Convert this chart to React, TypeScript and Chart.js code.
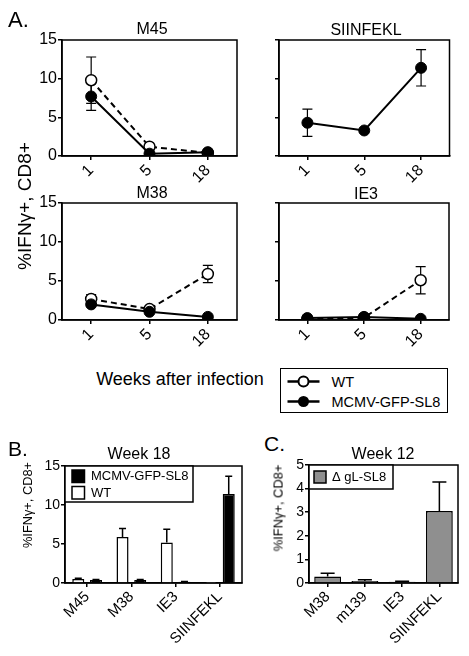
import React, { useEffect, useRef } from 'react';
import { Chart, registerables } from 'chart.js';
Chart.register(...registerables);

const FONT = '"Liberation Sans", Arial, Helvetica, sans-serif';

// ---------- Panel A data (weeks after infection) ----------
const weeks = ['1', '5', '18'];
const m45WT = [9.8, 1.2, 0.4];
const m45WTErr = [3.0, 0, 0];
const m45SL8 = [7.7, 0.3, 0.5];
const m45SL8Err = [1.8, 0, 0];
const siinfeklSL8 = [4.3, 3.3, 11.4];
const siinfeklSL8Err = [1.75, 0, 2.35];
const m38WT = [2.7, 1.4, 5.9];
const m38WTErr = [0.55, 0, 1.1];
const m38SL8 = [2.0, 1.05, 0.4];
const m38SL8Err = [0, 0, 0];
const ie3WT = [0.1, 0.3, 5.1];
const ie3WTErr = [0, 0, 1.75];
const ie3SL8 = [0.25, 0.4, 0.15];
const ie3SL8Err = [0, 0, 0];
const yMaxA = 15;
const yStepA = 5;

// ---------- Panel B data (week 18) ----------
const peptidesB = ['M45', 'M38', 'IE3', 'SIINFEKL'];
const week18WT = [0.5, 5.9, 5.2, 0.03];
const week18WTErr = [0.1, 1.1, 1.7, 0];
const week18SL8 = [0.4, 0.4, 0.15, 11.4];
const week18SL8Err = [0.05, 0.05, 0.05, 2.3];
const yMaxB = 15;
const yStepB = 5;

// ---------- Panel C data (week 12) ----------
const peptidesC = ['M38', 'm139', 'IE3', 'SIINFEKL'];
const week12gL = [0.28, 0.08, 0.05, 3.05];
const week12gLErr = [0.13, 0.06, 0.02, 1.23];
const yMaxC = 5;
const yStepC = 1;

// ---------- plugins ----------
const framePlugin = {
  id: 'frame',
  beforeDatasetsDraw(chart: any) {
    const { ctx, chartArea: a } = chart;
    ctx.save();
    ctx.strokeStyle = '#000';
    ctx.lineWidth = 1.5;
    ctx.strokeRect(a.left, a.top, a.right - a.left, a.bottom - a.top);
    ctx.restore();
  },
};

const errorPlugin = {
  id: 'errorBars',
  beforeDatasetsDraw(chart: any) {
    const { ctx } = chart;
    const ys = chart.scales.y;
    chart.data.datasets.forEach((ds: any, i: number) => {
      if (!ds.errors) return;
      const meta = chart.getDatasetMeta(i);
      ctx.save();
      ctx.strokeStyle = '#000';
      ctx.lineWidth = ds.errLineWidth || 1.2;
      meta.data.forEach((el: any, j: number) => {
        const e = ds.errors[j];
        if (!e) return;
        const v = ds.data[j];
        const x = el.x;
        const yTop = ys.getPixelForValue(v + e);
        const yBot = ds.errUpOnly ? ys.getPixelForValue(v) : ys.getPixelForValue(v - e);
        const half = (ds.errCap || 10) / 2;
        ctx.beginPath();
        ctx.moveTo(x, yTop);
        ctx.lineTo(x, yBot);
        ctx.moveTo(x - half, yTop);
        ctx.lineTo(x + half, yTop);
        if (!ds.errUpOnly) {
          ctx.moveTo(x - half, yBot);
          ctx.lineTo(x + half, yBot);
        }
        ctx.stroke();
      });
      ctx.restore();
    });
  },
};

const boxLegendPlugin = {
  id: 'boxLegend',
  afterDatasetsDraw(chart: any, _args: any, opts: any) {
    if (!opts || !opts.items) return;
    const { ctx, chartArea: a } = chart;
    ctx.save();
    ctx.fillStyle = '#fff';
    ctx.fillRect(a.left, a.top, opts.width, opts.height);
    ctx.strokeStyle = '#000';
    ctx.lineWidth = 1.5;
    ctx.strokeRect(a.left, a.top, opts.width, opts.height);
    ctx.font = `${opts.fontSize}px ${FONT}`;
    ctx.textBaseline = 'middle';
    opts.items.forEach((it: any, i: number) => {
      const sy = a.top + opts.boxY + i * opts.rowH;
      ctx.fillStyle = it.color;
      ctx.fillRect(a.left + opts.boxX, sy, opts.box, opts.box);
      ctx.strokeStyle = '#000';
      ctx.lineWidth = 1.5;
      ctx.strokeRect(a.left + opts.boxX, sy, opts.box, opts.box);
      ctx.fillStyle = '#000';
      ctx.fillText(it.label, a.left + opts.textX, sy + opts.box / 2 + 0.5);
    });
    ctx.restore();
  },
};

function axisX(fontSize: number, xH: number) {
  return {
    type: 'category',
    offset: true,
    grid: { display: true, drawOnChartArea: false, offset: false, tickLength: 4, color: '#000', lineWidth: 1.5 },
    border: { display: true, color: '#000', width: 1.5 },
    ticks: { color: '#000', font: { family: FONT, size: fontSize }, maxRotation: 45, minRotation: 45, padding: 1, autoSkip: false },
    afterFit: (s: any) => { s.height = xH; },
  };
}

function axisY(max: number, step: number, fontSize: number, yW: number, showLabels: boolean) {
  const ticks: any = { stepSize: step, color: '#000', font: { family: FONT, size: fontSize }, padding: 1 };
  if (!showLabels) ticks.callback = () => '';
  return {
    min: 0,
    max,
    grid: { display: true, drawOnChartArea: false, tickLength: 4, color: '#000', lineWidth: 1.5 },
    border: { display: true, color: '#000', width: 1.5 },
    ticks,
    afterFit: (s: any) => { s.width = yW; },
  };
}

function wtLine(data: number[], errors: number[]) {
  return {
    label: 'WT', data, errors, errCap: 10, errLineWidth: 1.2,
    borderColor: '#000', borderWidth: 2, borderDash: [6, 4],
    pointRadius: 5.5, pointBackgroundColor: '#fff', pointBorderColor: '#000', pointBorderWidth: 1.5,
  };
}
function sl8Line(data: number[], errors: number[]) {
  return {
    label: 'MCMV-GFP-SL8', data, errors, errCap: 10, errLineWidth: 1.2,
    borderColor: '#000', borderWidth: 2,
    pointRadius: 5.5, pointBackgroundColor: '#000', pointBorderColor: '#000', pointBorderWidth: 1,
  };
}

function lineConfig(datasets: any[], yW: number, xH: number, showY: boolean) {
  return {
    type: 'line',
    data: { labels: weeks, datasets },
    options: {
      responsive: false, animation: false, devicePixelRatio: 1,
      layout: { padding: { top: 12, right: 2, left: 0, bottom: 0 } },
      plugins: { legend: { display: false }, tooltip: { enabled: false } },
      scales: { x: axisX(16, xH), y: axisY(yMaxA, yStepA, 16, yW, showY) },
    },
    plugins: [framePlugin, errorPlugin],
  };
}

function ChartBox({ left, top, width, height, config }: any) {
  const ref = useRef<HTMLCanvasElement>(null);
  useEffect(() => {
    const c = new Chart(ref.current as HTMLCanvasElement, config);
    return () => c.destroy();
  }, []);
  return (
    <div style={{ position: 'absolute', left, top, width, height }}>
      <canvas ref={ref} width={width} height={height} style={{ width, height, display: 'block' }} />
    </div>
  );
}

function Txt({ x, y, size, children, align = 'center', rotate = false }: any) {
  const style: any = {
    position: 'absolute', left: x, top: y, fontSize: size, lineHeight: `${size}px`,
    whiteSpace: 'nowrap', fontFamily: FONT, color: '#000',
  };
  if (rotate) style.transform = 'translate(-50%,-50%) rotate(-90deg)';
  else if (align === 'center') style.transform = 'translate(-50%,-50%)';
  else style.transform = 'translate(0,-50%)';
  return <div style={style}>{children}</div>;
}

const m45Config = lineConfig([sl8Line(m45SL8, m45SL8Err), wtLine(m45WT, m45WTErr)], 42, 37, true);
const siinConfig = lineConfig([sl8Line(siinfeklSL8, siinfeklSL8Err)], 29, 37, false);
const m38Config = lineConfig([sl8Line(m38SL8, m38SL8Err), wtLine(m38WT, m38WTErr)], 42, 36, true);
const ie3Config = lineConfig([sl8Line(ie3SL8, ie3SL8Err), wtLine(ie3WT, ie3WTErr)], 29, 36, false);

const bConfig = {
  type: 'bar',
  data: {
    labels: peptidesB,
    datasets: [
      { label: 'WT', data: week18WT, errors: week18WTErr, errUpOnly: true, errCap: 7, errLineWidth: 1.5,
        backgroundColor: '#fff', borderColor: '#000', borderWidth: 1.5, barPercentage: 0.68, categoryPercentage: 0.8 },
      { label: 'MCMV-GFP-SL8', data: week18SL8, errors: week18SL8Err, errUpOnly: true, errCap: 7, errLineWidth: 1.5,
        backgroundColor: '#000', borderColor: '#000', borderWidth: 1.5, barPercentage: 0.68, categoryPercentage: 0.8 },
    ],
  },
  options: {
    responsive: false, animation: false, devicePixelRatio: 1,
    layout: { padding: { top: 10, right: 2, left: 0, bottom: 0 } },
    plugins: {
      legend: { display: false }, tooltip: { enabled: false },
      boxLegend: {
        width: 128, height: 36, box: 12.5, boxX: 7, boxY: 4, rowH: 16.5, textX: 26, fontSize: 13,
        items: [{ label: 'MCMV-GFP-SL8', color: '#000' }, { label: 'WT', color: '#fff' }],
      },
    },
    scales: { x: axisX(15, 73), y: axisY(yMaxB, yStepB, 14, 45, true) },
  },
  plugins: [framePlugin, errorPlugin, boxLegendPlugin],
};

const cConfig = {
  type: 'bar',
  data: {
    labels: peptidesC,
    datasets: [
      { label: 'Δ gL-SL8', data: week12gL, errors: week12gLErr, errUpOnly: true, errCap: 14, errLineWidth: 1.5,
        backgroundColor: '#8f8f8f', borderColor: '#000', borderWidth: 1.5, barPercentage: 0.9, categoryPercentage: 0.8 },
    ],
  },
  options: {
    responsive: false, animation: false, devicePixelRatio: 1,
    layout: { padding: { top: 10, right: 2, left: 0, bottom: 0 } },
    plugins: {
      legend: { display: false }, tooltip: { enabled: false },
      boxLegend: {
        width: 84, height: 24, box: 12, boxX: 5, boxY: 6, rowH: 16, textX: 23, fontSize: 13,
        items: [{ label: 'Δ gL-SL8', color: '#8f8f8f' }],
      },
    },
    scales: { x: axisX(15, 73), y: axisY(yMaxC, yStepC, 14, 24, true) },
  },
  plugins: [framePlugin, errorPlugin, boxLegendPlugin],
};

export default function App() {
  return (
    <div style={{ position: 'fixed', left: 0, top: 0, width: 469, height: 656, background: '#fff', overflow: 'hidden', fontFamily: FONT }}>
      <ChartBox left={20} top={28} width={224} height={165} config={m45Config} />
      <ChartBox left={250} top={28} width={206} height={165} config={siinConfig} />
      <ChartBox left={20} top={191} width={224} height={165} config={m38Config} />
      <ChartBox left={250} top={191} width={206} height={165} config={ie3Config} />
      <ChartBox left={20} top={456} width={224} height={200} config={bConfig} />
      <ChartBox left={285} top={455} width={175} height={201} config={cConfig} />

      <Txt x={8} y={20} size={22} align="left">A.</Txt>
      <Txt x={8} y={448} size={21} align="left">B.</Txt>
      <Txt x={264} y={443} size={21} align="left">C.</Txt>

      <Txt x={152} y={29} size={16}>M45</Txt>
      <Txt x={366} y={30} size={16}>SIINFEKL</Txt>
      <Txt x={152} y={193} size={16}>M38</Txt>
      <Txt x={366} y={194} size={16}>IE3</Txt>

      <Txt x={23.5} y={206} size={19} rotate>%IFNγ+, CD8+</Txt>
      <Txt x={180} y={379} size={18}>Weeks after infection</Txt>

      <div style={{ position: 'absolute', left: 280, top: 368, width: 168, height: 45, border: '1.5px solid #000', boxSizing: 'border-box', background: '#fff' }}>
        <svg width={50} height={42} style={{ position: 'absolute', left: 0, top: 0 }}>
          <line x1={6.5} y1={12.5} x2={38.5} y2={12.5} stroke="#000" strokeWidth={2.5} />
          <circle cx={22.5} cy={12.5} r={5} fill="#fff" stroke="#000" strokeWidth={2} />
          <line x1={6.5} y1={32.5} x2={38.5} y2={32.5} stroke="#000" strokeWidth={2.5} />
          <circle cx={22.5} cy={32.5} r={5.5} fill="#000" />
        </svg>
        <div style={{ position: 'absolute', left: 50.5, top: 12.5, transform: 'translateY(-50%)', fontSize: 14.5, lineHeight: '14.5px', whiteSpace: 'nowrap' }}>WT</div>
        <div style={{ position: 'absolute', left: 50.5, top: 32.5, transform: 'translateY(-50%)', fontSize: 14.5, lineHeight: '14.5px', whiteSpace: 'nowrap' }}>MCMV-GFP-SL8</div>
      </div>

      <Txt x={139} y={454} size={16}>Week 18</Txt>
      <Txt x={383} y={454} size={16}>Week 12</Txt>
      <Txt x={27.5} y={505} size={12.8} rotate>%IFNγ+, CD8+</Txt>
      <Txt x={279} y={508} size={12.9} rotate>%IFNγ+, CD8+</Txt>
    </div>
  );
}
